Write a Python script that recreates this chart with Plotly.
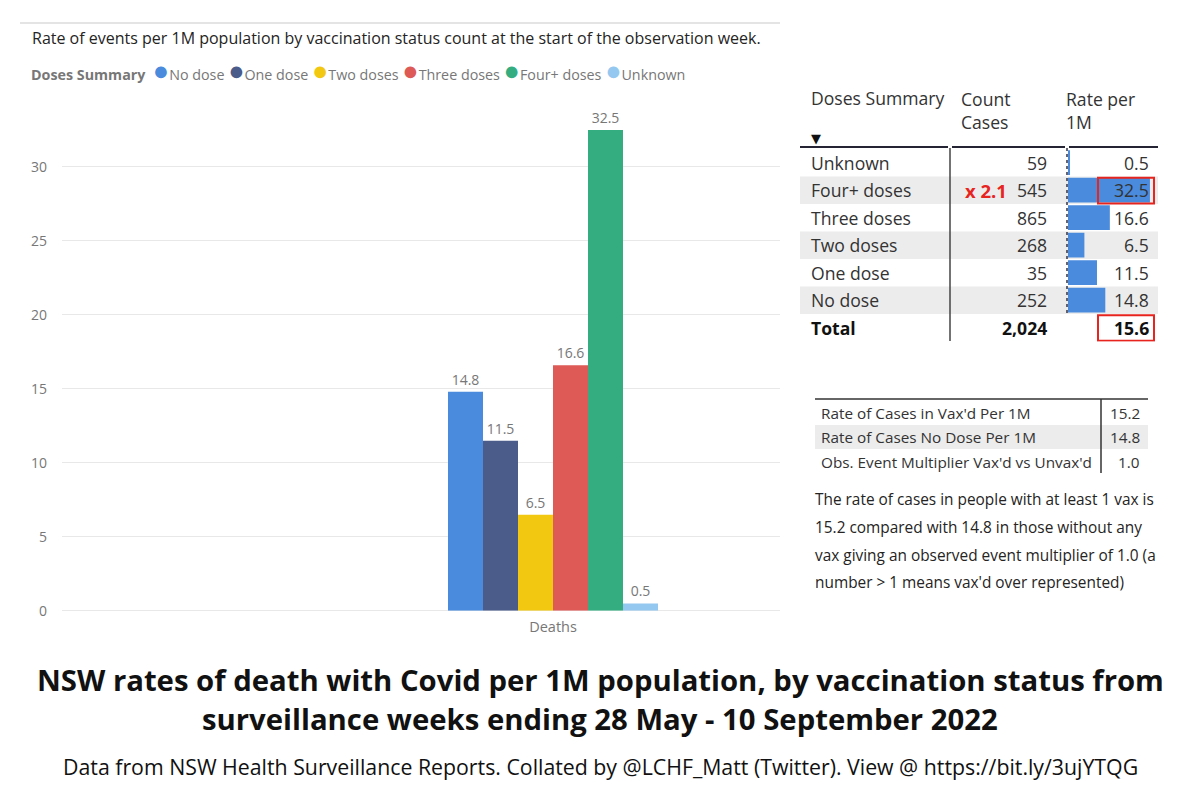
import plotly.graph_objects as go

W, H = 1200, 800

# ---------------- data ----------------
categories = ["Deaths"]
series_names = ["No dose", "One dose", "Two doses", "Three doses", "Four+ doses", "Unknown"]
series_values = [14.8, 11.5, 6.5, 16.6, 32.5, 0.5]
series_colors = ["#4A8BDD", "#4B5B8A", "#F2C811", "#DD5A56", "#34AE81", "#95C8F0"]
y_ticks = [0, 5, 10, 15, 20, 25, 30]

table_rows = ["Unknown", "Four+ doses", "Three doses", "Two doses", "One dose", "No dose"]
table_counts = [59, 545, 865, 268, 35, 252]
table_rates = [0.5, 32.5, 16.6, 6.5, 11.5, 14.8]
total_label = "Total"
total_count = 2024
total_rate = 15.6

summary_labels = ["Rate of Cases in Vax'd Per 1M",
                  "Rate of Cases No Dose Per 1M",
                  "Obs. Event Multiplier Vax'd vs Unvax'd"]
summary_values = [15.2, 14.8, 1.0]

note_lines = ["The rate of cases in people with at least 1 vax is",
              "15.2 compared with 14.8 in those without any",
              "vax giving an observed event multiplier of 1.0 (a",
              "number > 1 means vax'd over represented)"]

subtitle = "Rate of events per 1M population by vaccination status count at the start of the observation week."
legend_title = "Doses Summary"
title_lines = ["NSW rates of death with Covid per 1M population, by vaccination status from",
               "surveillance weeks ending 28 May - 10 September 2022"]
footer = "Data from NSW Health Surveillance Reports. Collated by @LCHF_Matt (Twitter). View @ https://bit.ly/3ujYTQG"

# ---------------- helpers ----------------
FONT = "Open Sans"
YS = 0.989  # vertical compensation for the page capture
def px(x):
    return x / W
def py(y):
    return 1 - (y / YS) / H

fig = go.Figure()

# main grouped bars
for name, val, col in zip(series_names, series_values, series_colors):
    fig.add_trace(go.Bar(
        x=categories, y=[val], name=name, marker=dict(color=col, line=dict(width=0)),
        text=[f"{val:.1f}"], textposition="outside",
        textfont=dict(color="#777777", size=14, family=FONT),
        cliponaxis=False, showlegend=False, xaxis="x", yaxis="y"))

# in-table data bars
fig.add_trace(go.Bar(
    y=table_rows, x=table_rates, orientation="h", width=0.9,
    marker=dict(color="#4A8BDD", line=dict(width=0)),
    showlegend=False, hoverinfo="skip", xaxis="x2", yaxis="y2"))

shapes = []
ann = []

TXT = 17.6   # table font size

# top frame line
shapes.append(dict(type="line", xref="paper", yref="paper", x0=px(20), x1=px(780),
                   y0=py(23), y1=py(23), line=dict(color="#E4E4E4", width=2)))

# subtitle
ann.append(dict(text=subtitle, xref="paper", yref="paper", x=px(30), y=py(38),
                xanchor="left", yanchor="middle", showarrow=False,
                font=dict(family=FONT, size=16, color="#252423")))

# legend (text row with coloured dots)
parts = [f"<b>{legend_title}</b>\u00a0\u00a0"]
for name, col in zip(series_names, series_colors):
    parts.append(f"<span style='color:{col};font-size:27px'>\u25CF</span>{name}\u00a0")
ann.append(dict(text="".join(parts), xref="paper", yref="paper", x=px(29), y=py(70),
                xanchor="left", yanchor="middle", showarrow=False,
                font=dict(family=FONT, size=14.3, color="#777777")))

# ---------------- table ----------------
rows_all = table_rows + [total_label]
for i, r in enumerate(rows_all):
    if i % 2 == 1 and i < len(table_rows):
        shapes.append(dict(type="rect", xref="paper", yref="y2", x0=px(800), x1=px(1158),
                           y0=i - 0.5, y1=i + 0.5, fillcolor="#ECECEC",
                           line=dict(width=0), layer="below"))

# header
ann.append(dict(text="Doses Summary", xref="paper", yref="paper", x=px(809), y=py(98),
                xanchor="left", yanchor="middle", showarrow=False,
                font=dict(family=FONT, size=TXT, color="#333333")))
ann.append(dict(text="Count<br>Cases", xref="paper", yref="paper", x=px(959), y=py(85),
                xanchor="left", yanchor="top", align="left", showarrow=False,
                font=dict(family=FONT, size=TXT, color="#333333")))
ann.append(dict(text="Rate per<br>1M", xref="paper", yref="paper", x=px(1064), y=py(85),
                xanchor="left", yanchor="top", align="left", showarrow=False,
                font=dict(family=FONT, size=TXT, color="#333333")))
ann.append(dict(text="\u25BC", xref="paper", yref="paper", x=px(809), y=py(139),
                xanchor="left", yanchor="middle", showarrow=False,
                font=dict(family="DejaVu Sans", size=13, color="#111111")))

# header rule (segments with small gaps)
for a, b in [(800, 948), (952, 1065), (1069, 1158)]:
    shapes.append(dict(type="line", xref="paper", yref="paper", x0=px(a), x1=px(b),
                       y0=py(147), y1=py(147), line=dict(color="#252435", width=2)))
# column dividers
shapes.append(dict(type="line", xref="paper", yref="paper", x0=px(950), x1=px(950),
                   y0=py(148), y1=py(341), line=dict(color="#444444", width=1.5)))
shapes.append(dict(type="line", xref="paper", yref="paper", x0=px(1067), x1=px(1067),
                   y0=py(148), y1=py(313), line=dict(color="#333344", width=1.5, dash="dot")))

for i, (r, c, v) in enumerate(zip(table_rows, table_counts, table_rates)):
    ann.append(dict(text=r, xref="paper", yref="y2", x=px(809), y=r, xanchor="left",
                    yanchor="middle", showarrow=False,
                    font=dict(family=FONT, size=TXT, color="#333333")))
    ann.append(dict(text=f"{c:,}", xref="paper", yref="y2", x=px(1049), y=r, xanchor="right",
                    yanchor="middle", showarrow=False,
                    font=dict(family=FONT, size=TXT, color="#333333")))
    ann.append(dict(text=f"{v:.1f}", xref="paper", yref="y2", x=px(1151), y=r, xanchor="right",
                    yanchor="middle", showarrow=False,
                    font=dict(family=FONT, size=TXT, color="#333333")))

# total row
ann.append(dict(text=f"<b>{total_label}</b>", xref="paper", yref="y2", x=px(809), y=total_label,
                xanchor="left", yanchor="middle", showarrow=False,
                font=dict(family=FONT, size=TXT, color="#111111")))
ann.append(dict(text=f"<b>{total_count:,}</b>", xref="paper", yref="y2", x=px(1049), y=total_label,
                xanchor="right", yanchor="middle", showarrow=False,
                font=dict(family=FONT, size=TXT, color="#111111")))
ann.append(dict(text=f"<b>{total_rate:.1f}</b>", xref="paper", yref="y2", x=px(1151), y=total_label,
                xanchor="right", yanchor="middle", showarrow=False,
                font=dict(family=FONT, size=TXT, color="#111111")))

# multiplier callout and red boxes
idx_four = table_rows.index("Four+ doses")
mult = table_rates[idx_four] / total_rate
ann.append(dict(text=f"<b>x {mult:.1f}</b>", xref="paper", yref="y2", x=px(1009), y=table_rows[idx_four],
                xanchor="right", yanchor="middle", showarrow=False,
                font=dict(family=FONT, size=18.5, color="#E8241F")))
for k in (idx_four, len(rows_all) - 1):
    shapes.append(dict(type="rect", xref="paper", yref="y2", x0=px(1098), x1=px(1154),
                       y0=k - 0.45, y1=k + 0.48, line=dict(color="#E8241F", width=2),
                       fillcolor="rgba(0,0,0,0)"))

# ---------------- summary table ----------------
shapes.append(dict(type="line", xref="paper", yref="paper", x0=px(815), x1=px(1148),
                   y0=py(399), y1=py(399), line=dict(color="#333333", width=1.5)))
shapes.append(dict(type="rect", xref="paper", yref="paper", x0=px(815), x1=px(1148),
                   y0=py(449), y1=py(425), fillcolor="#ECECEC", line=dict(width=0), layer="below"))
shapes.append(dict(type="line", xref="paper", yref="paper", x0=px(1101), x1=px(1101),
                   y0=py(399), y1=py(473), line=dict(color="#333333", width=1.5)))
for j, (lab, val) in enumerate(zip(summary_labels, summary_values)):
    yy = 413 + j * 24.5
    ann.append(dict(text=lab, xref="paper", yref="paper", x=px(819), y=py(yy), xanchor="left",
                    yanchor="middle", showarrow=False,
                    font=dict(family=FONT, size=15.3, color="#333333")))
    ann.append(dict(text=f"{val:.1f}", xref="paper", yref="paper", x=px(1142), y=py(yy),
                    xanchor="right", yanchor="middle", showarrow=False,
                    font=dict(family=FONT, size=15.3, color="#333333")))

for j, line in enumerate(note_lines):
    ann.append(dict(text=line, xref="paper", yref="paper", x=px(813), y=py(500 + j * 27.7),
                    xanchor="left", yanchor="middle", showarrow=False,
                    font=dict(family=FONT, size=15.4, color="#252423")))

# ---------------- titles ----------------
for j, line in enumerate(title_lines):
    ann.append(dict(text=f"<b>{line}</b>", xref="paper", yref="paper", x=0.5, y=py(680 + j * 39),
                    xanchor="center", yanchor="middle", showarrow=False,
                    font=dict(family=FONT, size=29.3, color="#111111")))
ann.append(dict(text=footer, xref="paper", yref="paper", x=0.5, y=py(767),
                xanchor="center", yanchor="middle", showarrow=False,
                font=dict(family=FONT, size=21.3, color="#111111")))

# ---------------- layout ----------------
bargap = 0.2
plot_left, plot_right, group_center = 62, 780, 553
unit = (6 * 35) / (1 - bargap)
x_range = [-(group_center - plot_left) / unit, (plot_right - group_center) / unit]

fig.update_layout(
    width=W, height=H, margin=dict(l=0, r=0, t=0, b=0),
    paper_bgcolor="white", plot_bgcolor="white",
    barmode="group", bargap=bargap, bargroupgap=0,
    font=dict(family=FONT),
    showlegend=False,
    xaxis=dict(domain=[px(plot_left), px(plot_right)], type="category", range=x_range,
               showgrid=False, showline=False, ticks="", anchor="y", ticklabelstandoff=6,
               tickfont=dict(family=FONT, size=14.5, color="#777777")),
    yaxis=dict(domain=[py(611), py(93)], range=[0, 35], tickvals=y_ticks,
               showgrid=True, gridcolor="#E8E8E8", gridwidth=1,
               zeroline=True, zerolinecolor="#E8E8E8", zerolinewidth=1,
               showline=False, ticks="", ticklabelstandoff=14, anchor="x",
               tickfont=dict(family=FONT, size=14, color="#777777")),
    xaxis2=dict(domain=[px(1068), px(1158)], range=[0, 35.7], visible=False, anchor="y2"),
    yaxis2=dict(domain=[py(341.5), py(149)], type="category", categoryorder="array",
                categoryarray=rows_all, range=[len(rows_all) - 0.5, -0.5],
                visible=False, anchor="x2"),
    shapes=shapes, annotations=ann,
)

page_fix = (
    "var s=document.createElement('style');"
    "s.textContent='html,body{margin:0;padding:0;width:1200px;height:800px;overflow:hidden;}"
    "body>div{display:block;height:800px;overflow:hidden;}';"
    "document.head.appendChild(s);"
)
fig.write_html("out.html", config={"displayModeBar": False}, post_script=page_fix)
